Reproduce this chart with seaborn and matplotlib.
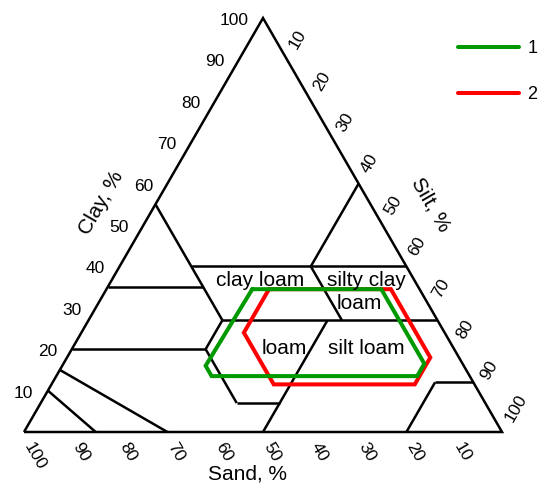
import numpy as np
import pandas as pd
import matplotlib
matplotlib.use("Agg")
import matplotlib.pyplot as plt
import seaborn as sns

# ---- data -------------------------------------------------------------
# Outline of each sample group as (sand, silt, clay) percentages
series_names = ["1", "2"]
sand_1 = [35.0, 8.0, 8.0, 11.0, 54.0, 54.0]
silt_1 = [30.5, 57.5, 75.5, 75.5, 32.5, 30.0]
clay_1 = [34.5, 34.5, 16.5, 13.5, 13.5, 16.0]

sand_2 = [31.5, 6.0, 6.0, 12.5, 42.0, 42.0]
silt_2 = [34.0, 59.5, 76.0, 76.0, 46.5, 34.0]
clay_2 = [34.5, 34.5, 18.0, 11.5, 11.5, 24.0]

# USDA texture class boundaries: start and end points as (sand, silt, clay)
boundary_start = [(90, 0, 10), (85, 0, 15), (80, 0, 20), (52, 28, 20),
                  (52, 28, 20), (52, 41, 7), (50, 50, 0), (45, 28, 27),
                  (45, 28, 27), (65, 0, 35), (45, 15, 40), (20, 53, 27),
                  (20, 40, 40), (20, 80, 0), (8, 80, 12)]
boundary_end = [(85, 15, 0), (70, 30, 0), (52, 28, 20), (45, 28, 27),
                (52, 41, 7), (43, 50, 7), (23, 50, 27), (0, 73, 27),
                (45, 0, 55), (45, 20, 35), (0, 60, 40), (20, 40, 40),
                (0, 40, 60), (8, 80, 12), (0, 88, 12)]

class_names = ["clay loam", "silty clay", "loam", "loam", "silt loam"]
tick_values = [10, 20, 30, 40, 50, 60, 70, 80, 90, 100]

# ---- helpers ----------------------------------------------------------
H = np.sqrt(3) / 2


def tern(sand, silt, clay):
    sand, silt, clay = (np.asarray(v, dtype=float) for v in (sand, silt, clay))
    return silt + clay / 2.0, clay * H


sns.set_theme(style="white")
plt.rcParams["font.family"] = ["Liberation Sans", "DejaVu Sans"]
plt.rcParams["text.color"] = "black"

fig = plt.figure(figsize=(5.47, 4.84), dpi=100)
ax = fig.add_axes([0, 0, 1, 1])
PX = 4.78  # screen pixels per percentage point
ax.set_xlim(-24 / PX, (547 - 24) / PX)
ax.set_ylim((432 - 484) / PX, 432 / PX)
ax.set_aspect("equal")
ax.axis("off")

edge_kw = dict(color="black", lw=1.8, solid_joinstyle="miter",
               solid_capstyle="butt")

# outer triangle
tx, ty = tern([100, 0, 0, 100], [0, 100, 0, 0], [0, 0, 100, 0])
ax.plot(tx, ty, **edge_kw)

# class boundaries
for a, b in zip(boundary_start, boundary_end):
    bx, by = tern(*zip(a, b))
    ax.plot(bx, by, **edge_kw)

# class labels
label_xy = [(49.5, 31.6), (71.7, 31.6), (70.2, 26.9), (54.4, 17.5), (71.6, 17.5)]
for name, (lx, ly) in zip(class_names, label_xy):
    ax.text(lx, ly, name, fontsize=15, ha="center", va="center", color="black")

# tick labels
tick_fs = 12.5
for v in tick_values:
    # clay along left edge
    cx, cy = tern(100 - v, 0, v)
    ax.text(cx - 14.5 / PX, cy - 2.5 / PX, str(v), fontsize=tick_fs,
            ha="right", va="center", color="black")
    # silt along right edge
    sx, sy = tern(0, v, 100 - v)
    ax.text(sx + 6.25 / PX, sy + 11.5 / PX, str(v), fontsize=tick_fs,
            ha="left", va="center", rotation=60, rotation_mode="anchor",
            color="black")
    # sand along the base
    bx, by = tern(v, 100 - v, 0)
    ax.text(bx + 3.75 / PX, by - 11.5 / PX, str(v), fontsize=tick_fs,
            ha="left", va="center", rotation=-60, rotation_mode="anchor",
            color="black")

# axis titles
ax.text(46.8, -8.8, "Sand, %", fontsize=15, ha="center", va="center",
        color="black")
ax.text(16.1, 48.0, "Clay, %", fontsize=15, ha="center", va="center",
        rotation=60, rotation_mode="anchor", color="black")
ax.text(85.1, 47.5, "Silt, %", fontsize=15, ha="center", va="center",
        rotation=-60, rotation_mode="anchor", color="black")

# sample outlines
frames = []
for name, sa, si, cl in [("1", sand_1, silt_1, clay_1), ("2", sand_2, silt_2, clay_2)]:
    px, py = tern(sa + sa[:1], si + si[:1], cl + cl[:1])
    frames.append(pd.DataFrame({"x": px, "y": py, "group": name,
                                "order": np.arange(len(px))}))
df = pd.concat(frames, ignore_index=True)

palette = {"1": "#009900", "2": "#ff0000"}
for name in ["2", "1"]:
    sub = df[df["group"] == name]
    sns.lineplot(data=sub, x="x", y="y", sort=False, estimator=None,
                 color=palette[name], lw=2.9, label=name, ax=ax,
                 solid_joinstyle="miter")

handles, labels = ax.get_legend_handles_labels()
order = sorted(range(len(labels)), key=lambda i: labels[i])
leg = ax.legend([handles[i] for i in order], [labels[i] for i in order],
                loc="upper left", bbox_to_anchor=(458 / 547, 1 - 40 / 484),
                frameon=False, fontsize=13, handlelength=3.4,
                handletextpad=0.45, labelspacing=1.62, borderpad=0,
                borderaxespad=0)
for t in leg.get_texts():
    t.set_color("black")

fig.savefig("out.png", dpi=100)
